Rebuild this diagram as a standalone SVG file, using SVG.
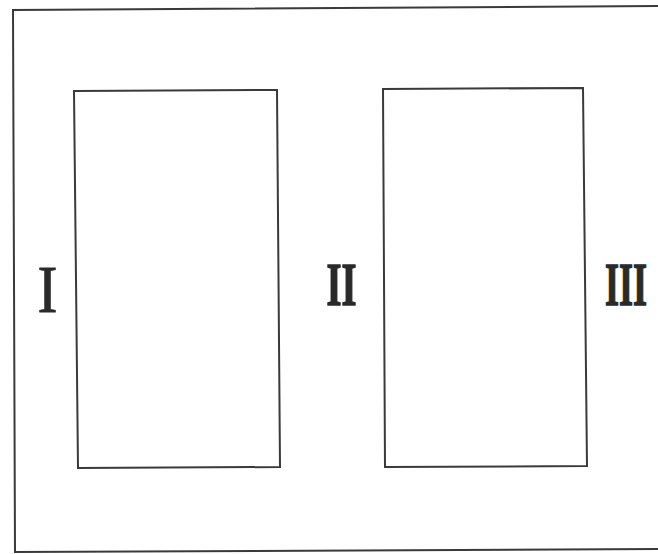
<svg xmlns="http://www.w3.org/2000/svg" width="658" height="554" viewBox="0 0 658 554">
<style>
.frame{fill:none;stroke:#3a3a3a;stroke-width:2}
.box{fill:#fff;stroke:#3a3a3a;stroke-width:2}
.num{font-family:"Liberation Serif","Times New Roman",serif;fill:#2a2a2a;text-anchor:middle}
.heavy{font-weight:bold;stroke:#2a2a2a;stroke-width:1.5}
</style>
<rect width="658" height="554" fill="#fff"/>
<g id="outer">
<polyline class="frame" points="660,6 13,10 15,552 660,549"/>
</g>
<g id="box1">
<polygon class="box" points="74,91 277,90 280,467 78,468"/>
</g>
<g id="box2">
<polygon class="box" points="383,89 583,88 587,466 385,467"/>
</g>
<g id="label-I"><text class="num" x="47.5" y="312" font-size="68" stroke="#2a2a2a" stroke-width="0.8" textLength="20" lengthAdjust="spacingAndGlyphs">I</text></g>
<g id="label-II"><text class="num heavy" x="341.5" y="305" font-size="62" textLength="30" lengthAdjust="spacingAndGlyphs">II</text></g>
<g id="label-III"><text class="num heavy" x="626" y="305" font-size="62" textLength="42" lengthAdjust="spacingAndGlyphs">III</text></g>
<g id="connectors"/>
</svg>
